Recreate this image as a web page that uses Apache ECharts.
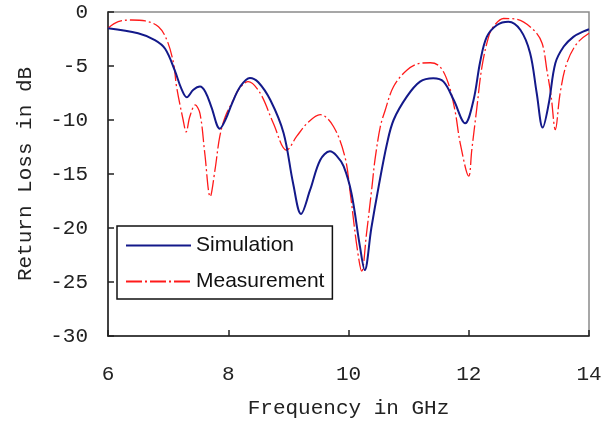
<!DOCTYPE html>
<html><head><meta charset="utf-8">
<script src="https://cdn.jsdelivr.net/npm/echarts@6/dist/echarts.min.js"></script>
<style>html,body{margin:0;padding:0;background:#fff}#c{width:611px;height:424px}</style>
</head><body><div id="c"></div>
<script>
var xTicks = [6, 8, 10, 12, 14];
var yTicks = [-30, -25, -20, -15, -10, -5, 0];
var simFreq = [6.0,6.5,6.78,6.95,7.11,7.22,7.31,7.42,7.53,7.62,7.72,7.86,7.96,8.06,8.2,8.36,8.5,8.7,8.92,9.08,9.21,9.36,9.53,9.69,9.8,9.92,10.05,10.19,10.27,10.38,10.5,10.64,10.75,10.97,11.19,11.41,11.58,11.75,11.94,12.08,12.19,12.3,12.47,12.66,12.86,13.02,13.13,13.23,13.33,13.44,13.58,13.74,13.91,14.0];
var simLoss = [-1.5,-1.97,-2.6,-3.4,-5.4,-7.1,-7.9,-7.2,-6.9,-7.4,-8.8,-10.8,-9.9,-8.5,-6.9,-6.1,-6.5,-8.15,-11.2,-15.9,-18.7,-16.5,-13.7,-12.9,-13.3,-14.3,-16.8,-21.7,-23.9,-20.0,-16.2,-12.2,-10.0,-7.84,-6.45,-6.14,-6.45,-8.15,-10.3,-8.15,-4.6,-2.3,-1.2,-0.9,-1.67,-3.8,-7.5,-10.7,-8.5,-4.75,-3.2,-2.3,-1.8,-1.6];
var measFreq = [6.0,6.17,6.39,6.62,6.84,6.98,7.09,7.14,7.25,7.30,7.36,7.45,7.53,7.61,7.70,7.78,7.86,7.95,8.08,8.17,8.33,8.53,8.75,8.97,9.14,9.33,9.53,9.75,9.94,10.03,10.14,10.22,10.3,10.39,10.44,10.53,10.61,10.75,10.97,11.19,11.36,11.52,11.66,11.77,11.86,12.0,12.05,12.13,12.22,12.33,12.41,12.58,12.8,13.08,13.22,13.3,13.37,13.44,13.52,13.63,13.8,14.0];
var measLoss = [-1.5,-0.9,-0.74,-0.83,-1.36,-2.6,-4.75,-6.9,-10.0,-11.1,-9.7,-8.6,-9.4,-13.1,-17.1,-14.6,-11.5,-9.7,-8.2,-7.2,-6.45,-7.5,-10.3,-12.8,-11.5,-10.2,-9.5,-10.6,-13.4,-16.8,-21.7,-24.0,-20.5,-16.2,-13.7,-10.6,-9.1,-6.9,-5.4,-4.75,-4.7,-5.06,-6.6,-9.1,-12.2,-15.2,-12.8,-9.1,-5.06,-2.3,-1.36,-0.6,-0.68,-1.67,-2.9,-5.4,-7.8,-10.9,-7.5,-4.75,-2.9,-1.97];
var seriesNames = ['Simulation', 'Measurement'];

function pairs(xs, ys) { return xs.map(function (x, i) { return [x, ys[i]]; }); }
var mono = 'Liberation Mono';
var chart = echarts.init(document.getElementById('c'));
chart.setOption({
  animation: false,
  grid: { left: 108, top: 12, right: 22, bottom: 88, show: true, borderColor: '#8a8a8a', borderWidth: 1.5, backgroundColor: '#fff' },
  legend: {
    orient: 'vertical', left: 117, top: 226,
    data: seriesNames,
    itemWidth: 65, itemHeight: 20, itemGap: 15,
    padding: [9, 8, 7, 8],
    itemStyle: { opacity: 0 },
    backgroundColor: '#fff', borderColor: '#111', borderWidth: 1.5,
    textStyle: { fontFamily: 'Liberation Sans', fontSize: 21, color: '#111' }
  },
  xAxis: {
    type: 'value', min: xTicks[0], max: xTicks[xTicks.length - 1], interval: 2,
    name: 'Frequency in GHz', nameLocation: 'middle', nameGap: 62,
    nameTextStyle: { fontFamily: mono, fontSize: 21, color: '#222' },
    axisLine: { show: true, onZero: false, lineStyle: { color: '#222', width: 1.5 } },
    axisTick: { show: true, inside: true, length: 6, lineStyle: { color: '#222', width: 1.5 } },
    axisLabel: { margin: 28, fontFamily: mono, fontSize: 21, color: '#222' },
    splitLine: { show: false }
  },
  yAxis: {
    type: 'value', min: yTicks[0], max: yTicks[yTicks.length - 1], interval: 5,
    name: 'Return Loss in dB', nameLocation: 'middle', nameGap: 72,
    nameTextStyle: { fontFamily: mono, fontSize: 21, color: '#222' },
    axisLine: { show: true, onZero: false, lineStyle: { color: '#222', width: 1.5 } },
    axisTick: { show: true, inside: true, length: 6, lineStyle: { color: '#222', width: 1.5 } },
    axisLabel: { margin: 20, fontFamily: mono, fontSize: 21, color: '#222' },
    splitLine: { show: false }
  },
  series: [
    { name: seriesNames[0], type: 'line', data: pairs(simFreq, simLoss), smooth: 0.35, symbol: 'none',
      lineStyle: { color: '#13198a', width: 2 }, itemStyle: { color: '#13198a' }, z: 3 },
    { name: seriesNames[1], type: 'line', data: pairs(measFreq, measLoss), smooth: 0.35, symbol: 'none',
      lineStyle: { color: '#ff1a1a', width: 1.3, type: [16, 3, 2, 3] }, itemStyle: { color: '#ff1a1a' }, z: 2 }
  ]
});
</script></body></html>
